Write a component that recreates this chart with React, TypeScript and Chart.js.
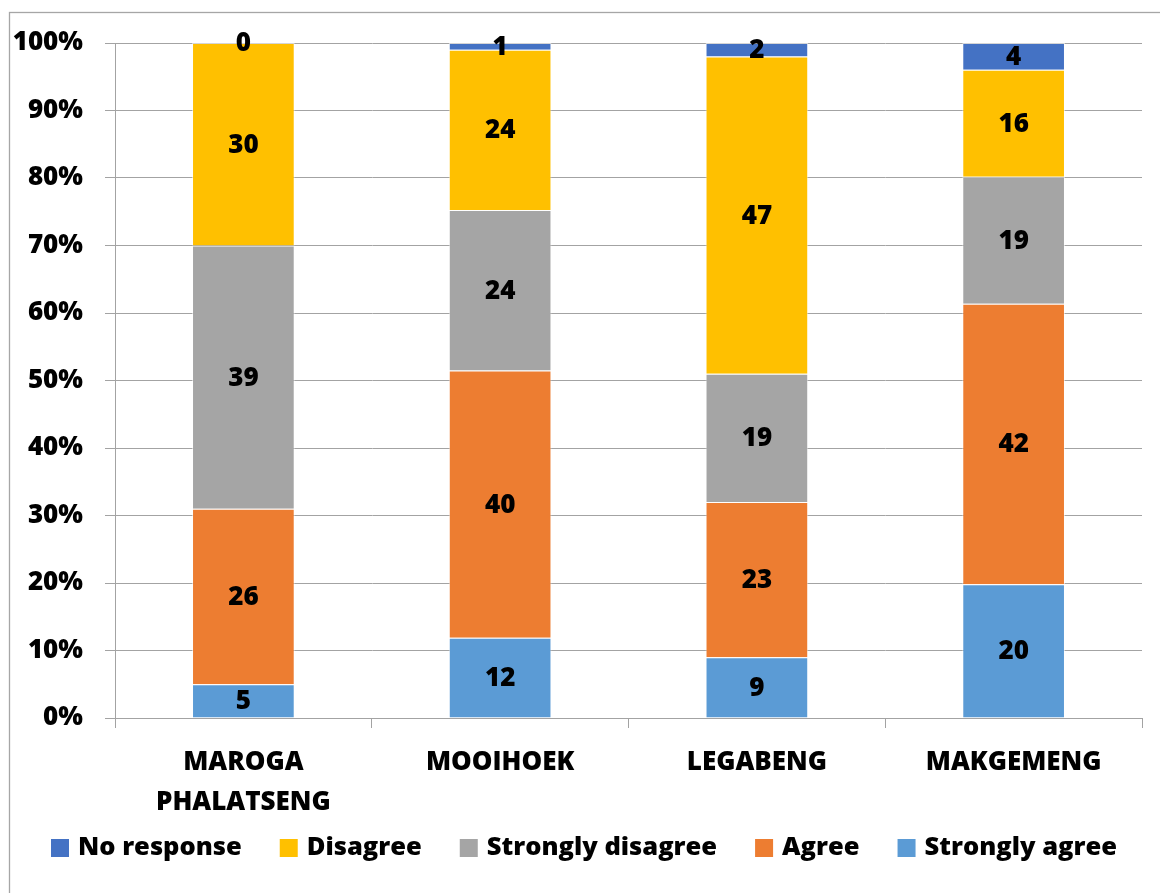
import React, { useEffect, useRef } from "react";
import { Chart, registerables } from "chart.js";

Chart.register(...registerables);

const villages: (string | string[])[] = [
  ["MAROGA", "PHALATSENG"],
  "MOOIHOEK",
  "LEGABENG",
  "MAKGEMENG",
];

// Response counts per village (stacked bottom to top)
const stronglyAgree = [5, 12, 9, 20];
const agree = [26, 40, 23, 42];
const stronglyDisagree = [39, 24, 19, 19];
const disagree = [30, 24, 47, 16];
const noResponse = [0, 1, 2, 4];

const yTicks = [0, 10, 20, 30, 40, 50, 60, 70, 80, 90, 100];

const FONT_FAMILY = "'Open Sans', Lato, sans-serif";
const FONT_SIZE = 26;
const LEGEND_SIZE = 25.5;
const WEIGHT = "800";
const GRID = "#a3a3a3";

const seriesDefs = [
  { label: "Strongly agree", counts: stronglyAgree, color: "#5B9BD5" },
  { label: "Agree", counts: agree, color: "#ED7D31" },
  { label: "Strongly disagree", counts: stronglyDisagree, color: "#A5A5A5" },
  { label: "Disagree", counts: disagree, color: "#FFC000" },
  { label: "No response", counts: noResponse, color: "#4472C4" },
];

const totals = villages.map((_, i) =>
  seriesDefs.reduce((s, d) => s + d.counts[i], 0)
);

// Writes each segment's count in the middle of the segment
const countLabels = {
  id: "countLabels",
  afterDatasetsDraw(chart: any) {
    const ctx = chart.ctx;
    ctx.save();
    ctx.font = `${WEIGHT} ${FONT_SIZE}px ${FONT_FAMILY}`;
    ctx.fillStyle = "#000";
    ctx.textAlign = "center";
    ctx.textBaseline = "middle";
    chart.data.datasets.forEach((ds: any, di: number) => {
      const meta = chart.getDatasetMeta(di);
      meta.data.forEach((el: any, i: number) => {
        const v = ds.counts[i];
        ctx.fillText(String(v), el.x, (el.y + el.base) / 2 + 1);
      });
    });
    ctx.restore();
  },
};

// Legend row under the axis, series listed top of stack first
const legendRow = {
  id: "legendRow",
  afterDraw(chart: any) {
    const ctx = chart.ctx;
    const box = 18;
    const textGap = 9;
    const itemGap = 38;
    const centerX = 584;
    const centerY = 848;
    ctx.save();
    ctx.font = `${WEIGHT} ${LEGEND_SIZE}px ${FONT_FAMILY}`;
    ctx.textBaseline = "middle";
    ctx.textAlign = "left";
    const items = chart.data.datasets
      .map((ds: any) => ({ label: ds.label, color: ds.backgroundColor }))
      .reverse();
    const widths = items.map(
      (it: any) => box + textGap + ctx.measureText(it.label).width
    );
    const total =
      widths.reduce((a: number, b: number) => a + b, 0) +
      itemGap * (items.length - 1);
    let x = centerX - total / 2;
    items.forEach((it: any, i: number) => {
      ctx.fillStyle = it.color;
      ctx.fillRect(x, centerY - box / 2, box, box);
      ctx.fillStyle = "#000";
      ctx.fillText(it.label, x + box + textGap, centerY);
      x += widths[i] + itemGap;
    });
    ctx.restore();
  },
};

// White background and the frame around the chart
const frame = {
  id: "frame",
  beforeDraw(chart: any) {
    const ctx = chart.ctx;
    ctx.save();
    ctx.fillStyle = "#fff";
    ctx.fillRect(0, 0, chart.width, chart.height);
    ctx.strokeStyle = "#a6a6a6";
    ctx.lineWidth = 1.3;
    ctx.strokeRect(9.5, 12.5, chart.width + 20, chart.height + 20);
    ctx.restore();
  },
};

export default function App() {
  const ref = useRef<HTMLCanvasElement | null>(null);

  useEffect(() => {
    if (!ref.current) return;
    const chart = new Chart(ref.current, {
      type: "bar",
      data: {
        labels: villages,
        datasets: seriesDefs.map((d) => ({
          label: d.label,
          counts: d.counts,
          data: d.counts.map((c, i) => (c / totals[i]) * 100),
          backgroundColor: d.color,
          borderColor: "rgba(255,255,255,0.55)",
          borderWidth: 1,
          barPercentage: 0.4,
          categoryPercentage: 1,
        })) as any,
      },
      options: {
        animation: false,
        responsive: false,
        maintainAspectRatio: false,
        layout: { padding: { top: 43, right: 18, left: 0, bottom: 65 } },
        plugins: {
          tooltip: { enabled: false },
          legend: { display: false },
        },
        scales: {
          x: {
            stacked: true,
            afterFit(scale: any) {
              scale.height = 110;
            },
            grid: {
              display: true,
              drawOnChartArea: false,
              offset: true,
              color: GRID,
              tickLength: 10,
            },
            border: { display: true, color: GRID },
            ticks: {
              color: "#000",
              padding: 15,
              maxRotation: 0,
              font: {
                family: FONT_FAMILY,
                size: FONT_SIZE,
                weight: WEIGHT,
                lineHeight: 1.54,
              },
            },
          },
          y: {
            stacked: true,
            min: 0,
            max: 100,
            afterFit(scale: any) {
              scale.width = 115;
            },
            afterBuildTicks(scale: any) {
              scale.ticks = yTicks.map((v) => ({ value: v }));
            },
            grid: { color: GRID, tickLength: 10 },
            border: { display: true, color: GRID },
            ticks: {
              color: "#000",
              padding: 22,
              callback: (v: any) => `${v}%`,
              font: { family: FONT_FAMILY, size: FONT_SIZE, weight: WEIGHT },
            },
          },
        },
      },
      plugins: [frame, countLabels, legendRow],
    });
    return () => chart.destroy();
  }, []);

  return (
    <div
      style={{
        position: "fixed",
        left: 0,
        top: 0,
        width: 1160,
        height: 893,
        background: "#fff",
      }}
    >
      <canvas ref={ref} width={1160} height={893} style={{ display: "block" }} />
    </div>
  );
}
